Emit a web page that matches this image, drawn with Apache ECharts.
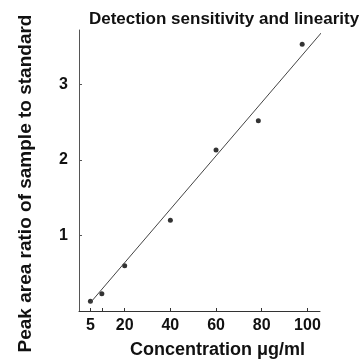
<!DOCTYPE html>
<html>
<head>
<meta charset="utf-8">
<script src="https://cdn.jsdelivr.net/npm/echarts@6/dist/echarts.min.js"></script>
<style>
html,body{margin:0;padding:0;background:#fff;}
#c{width:363px;height:364px;}
</style>
</head>
<body>
<div id="c"></div>
<script>
var concentration = [5, 10, 20, 40, 60, 78.5, 97.7];
var ratio = [0.13, 0.23, 0.60, 1.20, 2.13, 2.52, 3.53];
var fitX = [5, 106.7];
var fitY = [0.11, 3.705];
var xTickValues = [5, 10, 20, 40, 60, 80, 100];
var xLabelValues = [5, 20, 40, 60, 80, 100];
var yTickValues = [1, 2, 3];

var FONT = '"Liberation Sans", Arial, Helvetica, sans-serif';
var chart = echarts.init(document.getElementById('c'));
chart.setOption({
  animation: false,
  backgroundColor: '#fff',
  title: {
    text: 'Detection sensitivity and linearity',
    left: 219, top: 6, textAlign: 'center',
    textStyle: {fontFamily: FONT, fontWeight: 'bold', fontSize: 17, color: '#111'}
  },
  grid: {left: 79, right: 43, top: 30, bottom: 51.5},
  xAxis: {
    type: 'value', min: 0, max: 105.5,
    name: 'Concentration \u03bcg/ml', nameLocation: 'middle', nameGap: 30,
    nameTextStyle: {fontFamily: FONT, fontWeight: 'bold', fontSize: 18, color: '#111', padding: [0, 0, 0, 36]},
    axisLine: {show: true, onZero: false, lineStyle: {color: '#333', width: 1}},
    axisTick: {show: true, inside: true, length: 3, customValues: xTickValues, lineStyle: {color: '#333'}},
    axisLabel: {customValues: xLabelValues, margin: 7, fontFamily: FONT, fontWeight: 'bold', fontSize: 16, color: '#111'},
    splitLine: {show: false}
  },
  yAxis: {
    type: 'value', min: 0, max: 3.72,
    name: 'Peak area ratio of sample to standard', nameLocation: 'middle', nameGap: 44,
    nameTextStyle: {fontFamily: FONT, fontWeight: 'bold', fontSize: 19, color: '#111', padding: [0, 26, 0, 0]},
    axisLine: {show: true, onZero: false, lineStyle: {color: '#555', width: 1}},
    axisTick: {show: true, inside: true, length: 3, customValues: yTickValues, lineStyle: {color: '#555'}},
    axisLabel: {customValues: yTickValues, margin: 11, fontFamily: FONT, fontWeight: 'bold', fontSize: 16, color: '#111'},
    splitLine: {show: false}
  },
  series: [
    {
      type: 'line', clip: false, symbol: 'none',
      data: fitX.map(function (x, i) { return [x, fitY[i]]; }),
      lineStyle: {color: '#444', width: 1}
    },
    {
      type: 'scatter', symbol: 'circle', symbolSize: 5,
      data: concentration.map(function (x, i) { return [x, ratio[i]]; }),
      itemStyle: {color: '#000'}
    }
  ]
});
</script>
</body>
</html>
